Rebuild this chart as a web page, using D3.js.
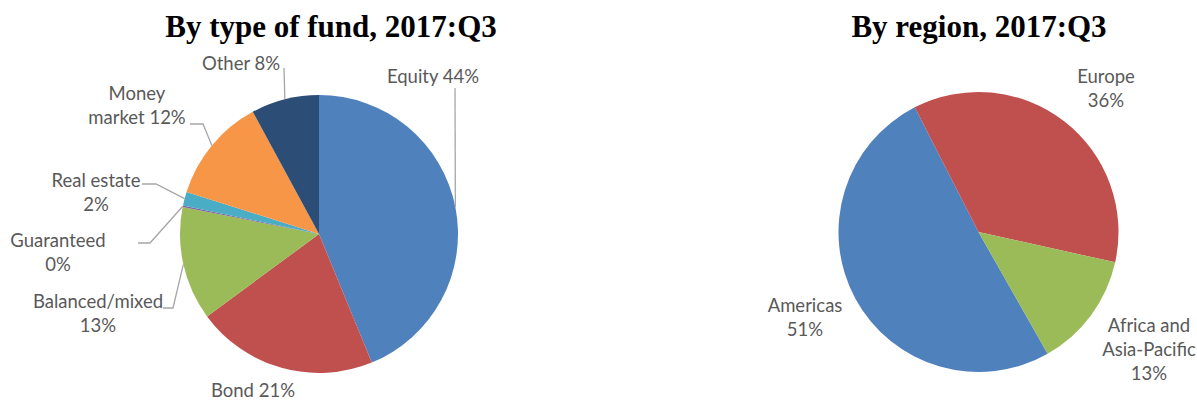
<!DOCTYPE html>
<html>
<head>
  <script src="https://d3js.org/d3.v7.min.js"></script>
  <style>
    body { margin: 0; padding: 0; background: white; overflow: hidden; }
    svg { display: block; }
  </style>
</head>
<body>
  <svg width="1197" height="401"></svg>

  <script>
    // fund types, clockwise from 12 o'clock
    const fundTypes = ["Equity", "Bond", "Balanced/mixed", "Guaranteed", "Real estate", "Money market", "Other"];
    const fundShares = [43.8, 21.1, 13.2, 0.2, 1.6, 12.2, 7.9];
    const fundColors = ["#4f81bd", "#c0504d", "#9bbb59", "#8064a2", "#4bacc6", "#f79646", "#2c4d75"];

    const regions = ["Americas", "Europe", "Africa and Asia-Pacific"];
    const regionShares = [50.7, 36.0, 13.3];
    const regionColors = ["#4f81bd", "#c0504d", "#9bbb59"];

    const svg = d3.select("svg");
    const labelFont = "Lato, 'Open Sans', sans-serif";
    const deg = Math.PI / 180;

    // label placement: text lines, centre x, first baseline, optional leader elbow/end
    const fundLabels = {
      "Equity":         { lines: ["Equity {p}"], x: 433, y: 83, leader: [[455, 88]] },
      "Bond":           { lines: ["Bond {p}"], x: 253, y: 397 },
      "Balanced/mixed": { lines: ["Balanced/mixed", "{p}"], x: 98, y: 308, leader: [[173, 308], [163, 308]] },
      "Guaranteed":     { lines: ["Guaranteed", "{p}"], x: 58, y: 247, leader: [[150, 243], [138, 243]] },
      "Real estate":    { lines: ["Real estate", "{p}"], x: 96, y: 187, leader: [[156, 184], [142, 184]] },
      "Money market":   { lines: ["Money", "market {p}"], x: 137, y: 100, leader: [[203, 124], [190, 124]] },
      "Other":          { lines: ["Other {p}"], x: 241, y: 70, leader: [[284, 68]] }
    };
    const regionLabels = {
      "Americas":                { lines: ["Americas", "{p}"], x: 805, y: 312 },
      "Europe":                  { lines: ["Europe", "{p}"], x: 1106, y: 83 },
      "Africa and Asia-Pacific": { lines: ["Africa and", "Asia-Pacific", "{p}"], x: 1149, y: 332 }
    };

    function drawPie(opts) {
      const items = opts.names.map((n, i) => ({ name: n, value: opts.values[i], color: opts.colors[i] }));
      const pie = d3.pie().sort(null).value(d => d.value)
        .startAngle(opts.start * deg).endAngle(opts.start * deg + 2 * Math.PI);
      const arcs = pie(items);
      const arc = d3.arc().innerRadius(0).outerRadius(opts.r);
      const edge = d3.arc().innerRadius(opts.r).outerRadius(opts.r);

      const g = svg.append("g").attr("transform", `translate(${opts.cx},${opts.cy})`);
      g.selectAll("path.slice")
        .data(arcs)
        .enter().append("path")
          .attr("class", "slice")
          .attr("d", arc)
          .attr("fill", d => d.data.color);

      arcs.forEach(a => {
        const lab = opts.labels[a.data.name];
        if (!lab) return;
        const pct = Math.round(a.data.value) + "%";
        if (lab.leader) {
          const p0 = edge.centroid(a);
          const pts = [[p0[0] + opts.cx, p0[1] + opts.cy]].concat(lab.leader);
          svg.append("path")
            .attr("d", d3.line()(pts))
            .attr("fill", "none")
            .attr("stroke", "#a6a6a6")
            .attr("stroke-width", 1.3);
        }
        const t = svg.append("text")
          .attr("x", lab.x)
          .attr("y", lab.y)
          .attr("text-anchor", "middle")
          .attr("font-family", labelFont)
          .attr("font-size", "18.5px")
          .attr("fill", "#595959");
        lab.lines.forEach((ln, i) => {
          t.append("tspan")
            .attr("x", lab.x)
            .attr("dy", i === 0 ? 0 : 24)
            .text(ln.replace("{p}", pct));
        });
      });

      svg.append("text")
        .attr("x", opts.titleX)
        .attr("y", 37)
        .attr("text-anchor", "middle")
        .attr("font-family", "'Liberation Serif', 'Times New Roman', serif")
        .attr("font-weight", "bold")
        .attr("font-size", "31px")
        .attr("fill", "black")
        .text(opts.title);
    }

    drawPie({
      names: fundTypes, values: fundShares, colors: fundColors, labels: fundLabels,
      cx: 319, cy: 234, r: 139, start: 0,
      title: "By type of fund, 2017:Q3", titleX: 331
    });

    drawPie({
      names: regions, values: regionShares, colors: regionColors, labels: regionLabels,
      cx: 978.5, cy: 232, r: 140, start: 150.4,
      title: "By region, 2017:Q3", titleX: 979
    });
  </script>
</body>
</html>
